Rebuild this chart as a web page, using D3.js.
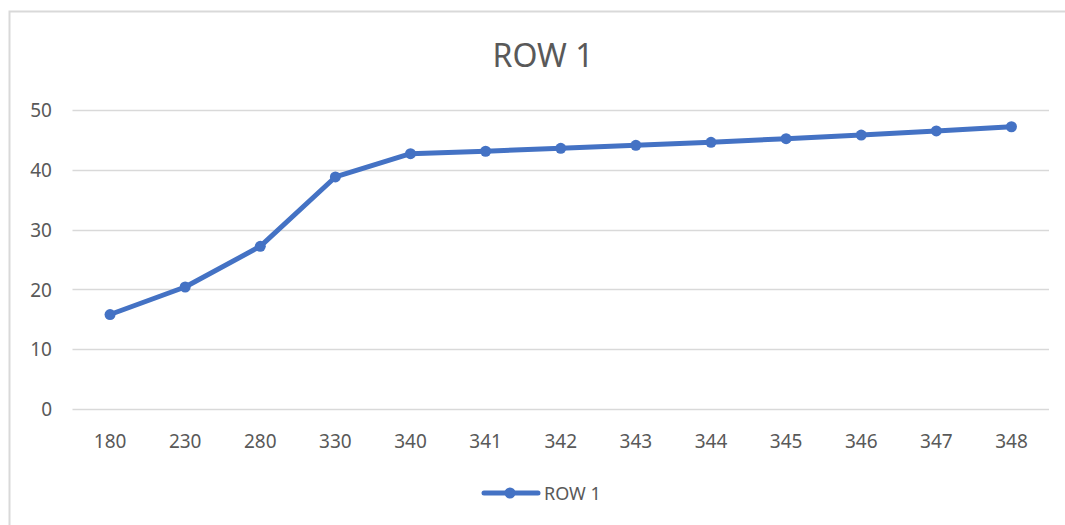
<!DOCTYPE html>
<html><head><meta charset="utf-8">
<script src="https://cdn.jsdelivr.net/npm/d3@7"></script>
<style>body{margin:0;background:#fff;} svg{display:block;} text{font-family:"Noto Sans",sans-serif;}</style>
</head><body>
<svg id="c" width="1065" height="525"></svg>
<script>
const categories = ["180","230","280","330","340","341","342","343","344","345","346","347","348"];
const values = [15.8, 20.4, 27.2, 38.8, 42.7, 43.1, 43.6, 44.1, 44.6, 45.2, 45.8, 46.5, 47.2];
const yTicks = [0, 10, 20, 30, 40, 50];
const seriesName = "ROW 1";
const title = "ROW 1";

const svg = d3.select("#c");
const color = "#4472C4";
const textColor = "#595959";
const font = '"Noto Sans", sans-serif';

svg.append("rect").attr("x",9.5).attr("y",11.5).attr("width",1060).attr("height",520)
  .attr("fill","#fff").attr("stroke","#d9d9d9").attr("stroke-width",2);

const x = d3.scaleBand().domain(categories).range([72.5, 1049]);
const y = d3.scaleLinear().domain([0, 50]).range([409, 110]);

const grid = svg.append("g");
grid.selectAll("line").data(yTicks).join("line")
  .attr("x1", x.range()[0]).attr("x2", x.range()[1])
  .attr("y1", d => Math.round(y(d)) + 0.5).attr("y2", d => Math.round(y(d)) + 0.5)
  .attr("stroke", "#d9d9d9").attr("stroke-width", 1.5);

const yAxis = svg.append("g").attr("transform", "translate(52,0)")
  .call(d3.axisLeft(y).tickValues(yTicks).tickSize(0).tickPadding(0))
  .attr("font-family", font).attr("font-size", 19);
yAxis.select(".domain").remove();
yAxis.selectAll("text").attr("fill", textColor).attr("dy","0.35em");

const xAxis = svg.append("g").attr("transform", "translate(0,409)")
  .call(d3.axisBottom(x).tickSize(0).tickPadding(0))
  .attr("font-family", font).attr("font-size", 19);
xAxis.select(".domain").remove();
xAxis.selectAll("text").attr("fill", textColor).attr("y", 39).attr("dy", 0);

svg.append("text").attr("x", 543).attr("y", 67).attr("text-anchor","middle")
  .attr("fill", textColor).attr("font-family", font).attr("font-size", 32).text(title);

const cx = d => x(d) + x.bandwidth()/2;
const line = d3.line().x((d,i) => cx(categories[i])).y(d => y(d));
svg.append("path").datum(values).attr("d", line).attr("fill","none")
  .attr("stroke", color).attr("stroke-width", 5).attr("stroke-linejoin","round").attr("stroke-linecap","round");
svg.append("g").selectAll("circle").data(values).join("circle")
  .attr("cx", (d,i) => cx(categories[i])).attr("cy", d => y(d)).attr("r", 5.5).attr("fill", color);

const lg = svg.append("g");
lg.append("line").attr("x1",484).attr("x2",538).attr("y1",493).attr("y2",493)
  .attr("stroke",color).attr("stroke-width",5).attr("stroke-linecap","round");
lg.append("circle").attr("cx",510).attr("cy",493).attr("r",5.5).attr("fill",color);
lg.append("text").attr("x",544).attr("y",500).attr("fill",textColor)
  .attr("font-family", font).attr("font-size", 18).text(seriesName);
</script>
</body></html>
